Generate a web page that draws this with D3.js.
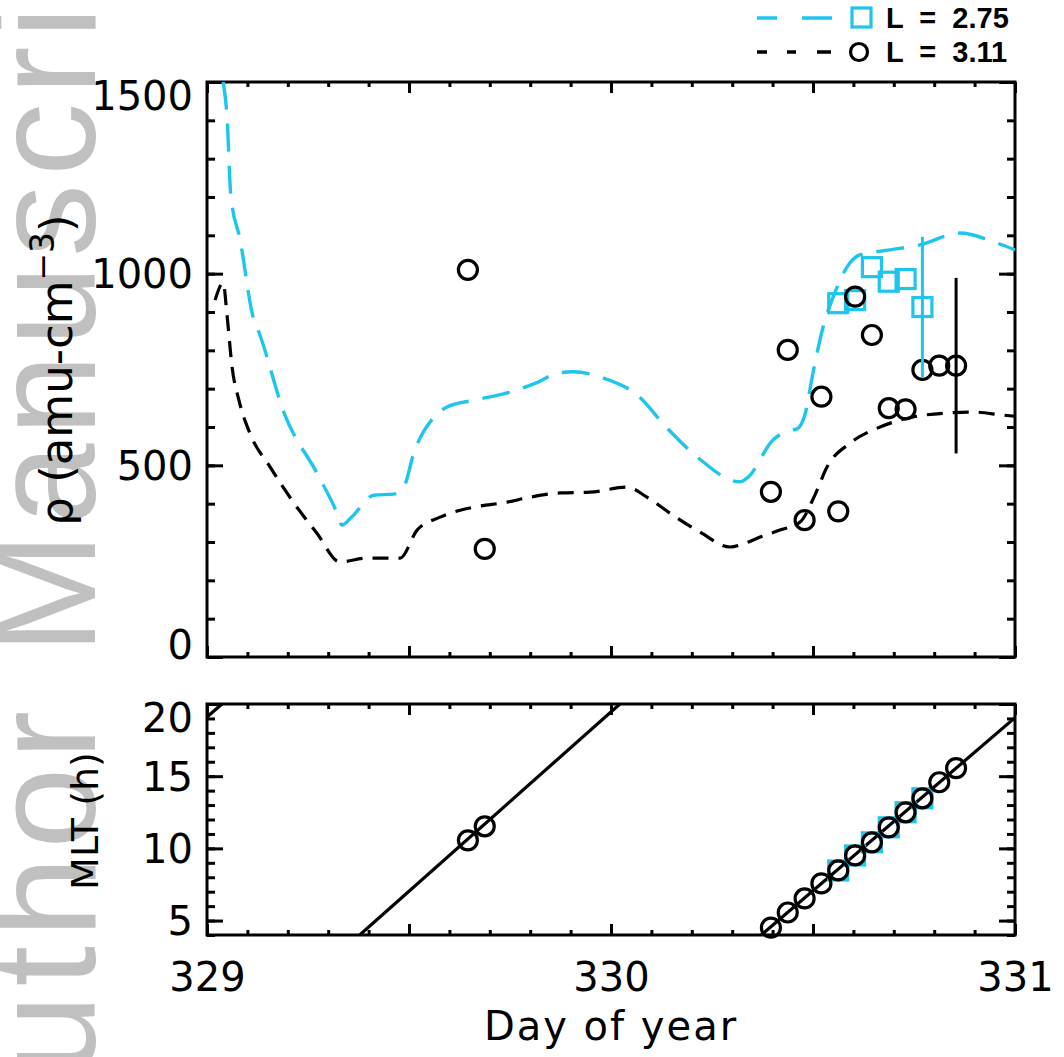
<!DOCTYPE html>
<html><head><meta charset="utf-8">
<script src="https://cdn.jsdelivr.net/npm/d3@7"></script>
<style>
html,body{margin:0;padding:0;background:#fff;}
svg{display:block;}
</style>
</head><body>
<script>
// ---------------- data ----------------
const cyanDay = [329.040,329.050,329.059,329.082,329.114,329.131,329.191,329.272,329.320,329.334,329.358,329.413,329.462,329.487,329.512,329.562,329.594,329.661,329.743,329.815,329.869,329.906,329.980,330.064,330.139,330.213,330.319,330.337,330.401,330.438,330.460,330.480,330.500,330.525,330.554,330.584,330.616,330.691,330.765,330.864,330.955,331.000];
const cyanRho = [1500,1403,1203,1088,887,840,636,480,380,344,365,422,425,443,532,626,652,670,689,715,741,744,728,684,597,522,457,467,566,590,595,632,741,861,950,1017,1049,1062,1075,1106,1080,1062];

const blackDay = [329.020,329.040,329.050,329.062,329.079,329.106,329.156,329.215,329.272,329.329,329.396,329.478,329.520,329.577,329.661,329.743,329.800,329.874,329.948,330.040,330.089,330.153,330.220,330.295,330.327,330.369,330.418,330.468,330.505,330.535,330.592,330.666,330.748,330.839,330.896,330.970,331.000];
const blackRho = [931,976,887,757,670,584,496,402,323,248,258,258,331,365,391,404,417,428,430,443,417,370,326,287,295,313,331,352,423,496,558,600,626,637,639,631,628];

const obsDay311 = [329.6458,329.6875,330.3958,330.4375,330.4792,330.5208,330.5625,330.6042,330.6458,330.6875,330.7292,330.7708,330.8125,330.8542];
const obsRho311 = [1010,282,431,801,357,679,380,940,840,649,646,749,760,760];
const obsMLT311 = [10.56,11.53,4.51,5.56,6.53,7.57,8.47,9.51,10.42,11.46,12.5,13.47,14.58,15.56];

const obsDay275 = [330.5625,330.6042,330.6458,330.6875,330.7292,330.7708];
const obsRho275 = [923,931,1017,979,986,913];
const obsMLT275 = [8.47,9.51,10.42,11.46,12.5,13.47];

// error bars: [day, value, error]
const err311 = [330.8542, 760, 229];
const err275 = [330.7708, 913, 183];

// MLT track segments [day, MLT]
const mltSegA = [[329.0,19.1],[329.037,20]];
const mltSegB = [[329.378,4],[330.022,20]];
const mltSegC = [[330.372,4],[331.0,19.05]];

const xDomain = [329, 331];
const rhoDomain = [0, 1500];
const mltDomain = [4, 20];
const rhoTicks = [0,500,1000,1500];
const mltTicks = [5,10,15,20];
const dayTicks = [329,329.5,330,330.5,331];
const dayLabels = ["329","","330","","331"];

const legendLabels = ["L  =  2.75","L  =  3.11"];
const cyan = "#1ec5ec";

// ---------------- layout ----------------
const W = 1064, H = 1057;
const X0 = 207, X1 = 1015;
const T0 = 82, T1 = 657;   // top panel
const B0 = 704, B1 = 935;  // bottom panel

const svg = d3.select("body").append("svg").attr("width", W).attr("height", H);

// watermark
svg.append("text")
  .attr("transform", "translate(95,1181) rotate(-90)")
  .attr("font-family", "Liberation Sans, Arial, sans-serif")
  .attr("font-size", 146)
  .attr("letter-spacing", 8)
  .attr("fill", "#c0c0c0")
  .text("Author Manuscript");

const x = d3.scaleLinear().domain(xDomain).range([X0, X1]);
const yT = d3.scaleLinear().domain(rhoDomain).range([T1, T0]);
const yB = d3.scaleLinear().domain(mltDomain).range([B1, B0]);

const defs = svg.append("defs");
defs.append("clipPath").attr("id","clipT").append("rect")
  .attr("x",X0).attr("y",T0).attr("width",X1-X0).attr("height",T1-T0);
defs.append("clipPath").attr("id","clipB").append("rect")
  .attr("x",X0).attr("y",B0).attr("width",X1-X0).attr("height",B1-B0);

const tickFont = "DejaVu Sans, sans-serif";

function range(a,b,s){const r=[];for(let v=a;v<=b+1e-9;v+=s)r.push(+v.toFixed(4));return r;}

function frame(y, top, bottom, yMajors, yMinors, labelX) {
  const g = svg.append("g");
  g.append("g").attr("transform",`translate(0,${bottom})`)
    .call(d3.axisBottom(x).tickValues(range(329,331,0.1)).tickSize(-5).tickFormat(""));
  g.append("g").attr("transform",`translate(0,${bottom})`)
    .call(d3.axisBottom(x).tickValues(dayTicks).tickSize(-11).tickPadding(28)
      .tickFormat((d,i)=> labelX ? dayLabels[i] : ""));
  g.append("g").attr("transform",`translate(0,${top})`)
    .call(d3.axisTop(x).tickValues(range(329,331,0.1)).tickSize(-5).tickFormat(""));
  g.append("g").attr("transform",`translate(0,${top})`)
    .call(d3.axisTop(x).tickValues(dayTicks).tickSize(-11).tickFormat(""));
  g.append("g").attr("transform",`translate(${X0},0)`)
    .call(d3.axisLeft(y).tickValues(yMinors).tickSize(-8).tickFormat(""));
  const yl = g.append("g").attr("transform",`translate(${X0},0)`)
    .call(d3.axisLeft(y).tickValues(yMajors).tickSize(-16).tickPadding(14).tickFormat(d3.format("d")));
  g.append("g").attr("transform",`translate(${X1},0)`)
    .call(d3.axisRight(y).tickValues(yMinors).tickSize(-8).tickFormat(""));
  g.append("g").attr("transform",`translate(${X1},0)`)
    .call(d3.axisRight(y).tickValues(yMajors).tickSize(-16).tickFormat(""));
  g.selectAll(".domain").remove();
  g.selectAll(".tick line").attr("stroke","#000").attr("stroke-width",3);
  g.selectAll("text").attr("font-family",tickFont).attr("font-size",40).attr("fill","#000");
  // keep edge labels inside the axis range
  yl.selectAll(".tick").each(function(d){
    const t = d3.select(this).select("text");
    const py = y(d), half = 14;
    let off = 0;
    if (py - half < top) off = top - (py - half) - 1;
    if (py + half > bottom) off = bottom - (py + half) + 1;
    t.attr("dy", null).attr("y", off).attr("dominant-baseline","central");
  });
  g.append("rect").attr("x",X0).attr("y",top).attr("width",X1-X0).attr("height",bottom-top)
    .attr("fill","none").attr("stroke","#000").attr("stroke-width",3);
}

frame(yT, T0, T1, rhoTicks, range(0,1500,100), false);
frame(yB, B0, B1, mltTicks, range(4,20,1), true);

// ---------------- top panel marks ----------------
const gT = svg.append("g").attr("clip-path","url(#clipT)");
const lineT = d3.line().x(d=>x(d[0])).y(d=>yT(d[1])).curve(d3.curveMonotoneX);

gT.append("path").datum(blackDay.map((d,i)=>[d,blackRho[i]]))
  .attr("d",lineT).attr("fill","none").attr("stroke","#000")
  .attr("stroke-width",3.2).attr("stroke-dasharray","16,10");
gT.append("path").datum(cyanDay.map((d,i)=>[d,cyanRho[i]]))
  .attr("d",lineT).attr("fill","none").attr("stroke",cyan)
  .attr("stroke-width",3.4).attr("stroke-dasharray","28,14");

gT.append("line").attr("x1",x(err311[0])).attr("x2",x(err311[0]))
  .attr("y1",yT(err311[1]-err311[2])).attr("y2",yT(err311[1]+err311[2]))
  .attr("stroke","#000").attr("stroke-width",3);

const SQ = 19;
gT.selectAll("rect.sq").data(obsDay275).join("rect").attr("class","sq")
  .attr("x",(d)=>x(d)-SQ/2).attr("y",(d,i)=>yT(obsRho275[i])-SQ/2)
  .attr("width",SQ).attr("height",SQ).attr("fill","none").attr("stroke",cyan).attr("stroke-width",3.2);

gT.selectAll("circle").data(obsDay311).join("circle")
  .attr("cx",d=>x(d)).attr("cy",(d,i)=>yT(obsRho311[i])).attr("r",9.5)
  .attr("fill","none").attr("stroke","#000").attr("stroke-width",3.2);

gT.append("line").attr("x1",x(err275[0])).attr("x2",x(err275[0]))
  .attr("y1",yT(err275[1]-err275[2])).attr("y2",yT(err275[1]+err275[2]))
  .attr("stroke",cyan).attr("stroke-width",3);

// ---------------- bottom panel marks ----------------
const gB = svg.append("g").attr("clip-path","url(#clipB)");
const lineB = d3.line().x(d=>x(d[0])).y(d=>yB(d[1]));
[mltSegA, mltSegB, mltSegC].forEach(seg=>{
  gB.append("path").datum(seg).attr("d",lineB).attr("fill","none")
    .attr("stroke","#000").attr("stroke-width",3.2);
});
gB.selectAll("rect.sq").data(obsDay275).join("rect").attr("class","sq")
  .attr("x",(d)=>x(d)-SQ/2).attr("y",(d,i)=>yB(obsMLT275[i])-SQ/2)
  .attr("width",SQ).attr("height",SQ).attr("fill","none").attr("stroke",cyan).attr("stroke-width",3.2);
svg.append("g").selectAll("circle").data(obsDay311).join("circle")
  .attr("cx",d=>x(d)).attr("cy",(d,i)=>yB(obsMLT311[i])).attr("r",9.5)
  .attr("fill","none").attr("stroke","#000").attr("stroke-width",3.2);

// ---------------- axis titles ----------------
const titleFont = "DejaVu Sans, sans-serif";
svg.append("text").attr("x",(X0+X1)/2).attr("y",1040).attr("text-anchor","middle")
  .attr("font-family",titleFont).attr("font-size",40).attr("letter-spacing",2).text("Day of year");

const rl = svg.append("text").attr("transform","translate(72,370) rotate(-90)")
  .attr("text-anchor","middle").attr("font-family",titleFont).attr("font-size",45);
rl.append("tspan").text("\u03c1 (amu-cm");
rl.append("tspan").attr("dy",-18).attr("font-size",33).text("\u22123");
rl.append("tspan").attr("dy",18).text(")");

svg.append("text").attr("transform","translate(98,821) rotate(-90)")
  .attr("text-anchor","middle").attr("font-family",titleFont).attr("font-size",38).text("MLT (h)");

// ---------------- legend ----------------
const lg = svg.append("g");
const legRows = [
  {y:18, color:cyan, dash:"20,25,30,100", mark:"sq"},
  {y:52, color:"#000", dash:"10,20,9,21,14,100", mark:"ci"}
];
legRows.forEach((r,i)=>{
  lg.append("line").attr("x1",757).attr("x2",832).attr("y1",r.y).attr("y2",r.y)
    .attr("stroke",r.color).attr("stroke-width",3.4).attr("stroke-dasharray",r.dash);
  if (r.mark==="sq") lg.append("rect").attr("x",852).attr("y",r.y-10).attr("width",19).attr("height",19)
    .attr("fill","none").attr("stroke",cyan).attr("stroke-width",3.2);
  else lg.append("circle").attr("cx",859).attr("cy",r.y).attr("r",8.5)
    .attr("fill","none").attr("stroke","#000").attr("stroke-width",3.2);
  lg.append("text").attr("x",886).attr("y",r.y+10).attr("font-family","Liberation Sans, Arial, sans-serif")
    .attr("font-weight","bold").attr("font-size",29).style("white-space","pre").text(legendLabels[i]);
});
</script>
</body></html>
